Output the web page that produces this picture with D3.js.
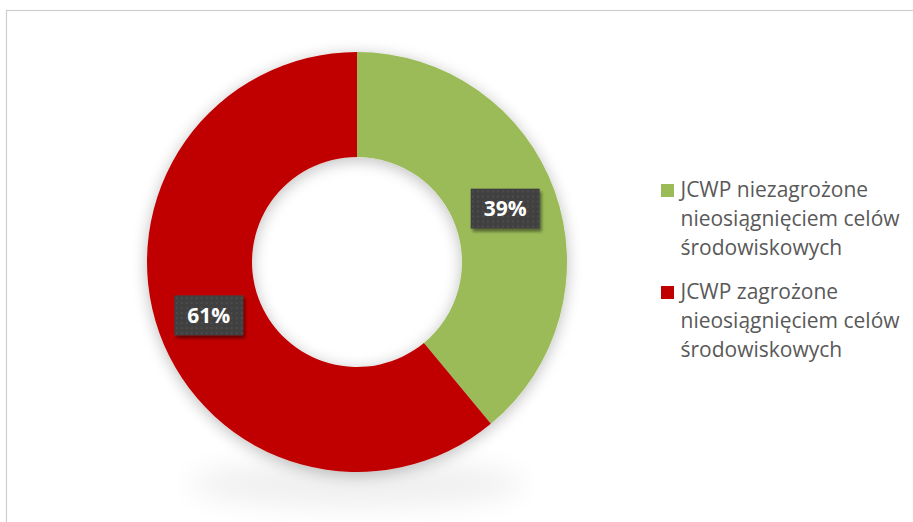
<!DOCTYPE html>
<html>
<head>
<meta charset="utf-8">
<script src="https://cdn.jsdelivr.net/npm/d3@7"></script>
<style>
  html, body { margin: 0; padding: 0; background: #fff; }
  svg { display: block; }
</style>
</head>
<body>
<svg id="chart" width="913" height="522"></svg>
<script>
// Share of water bodies (JCWP) at risk / not at risk of failing environmental objectives
const categories = [
  ["JCWP niezagrożone", "nieosiągnięciem celów", "środowiskowych"],
  ["JCWP zagrożone", "nieosiągnięciem celów", "środowiskowych"]
];
const values = [39, 61];
const valueLabels = ["39%", "61%"];
const colors = ["#9BBB59", "#C00000"];

const W = 913, H = 522;
const cx = 357, cy = 262, rOuter = 210, rInner = 105;

const svg = d3.select("#chart");
const defs = svg.append("defs");

// soft shadow around the ring
const ringShadow = defs.append("filter").attr("id", "ringShadow")
  .attr("x", "-30%").attr("y", "-30%").attr("width", "160%").attr("height", "160%");
ringShadow.append("feGaussianBlur").attr("in", "SourceAlpha").attr("stdDeviation", 8).attr("result", "b");
ringShadow.append("feOffset").attr("in", "b").attr("dy", 3).attr("result", "o");
ringShadow.append("feComponentTransfer").attr("in", "o").attr("result", "s")
  .append("feFuncA").attr("type", "linear").attr("slope", 0.26);
const m1 = ringShadow.append("feMerge");
m1.append("feMergeNode").attr("in", "s");
m1.append("feMergeNode").attr("in", "SourceGraphic");

// ground shadow under the ring
const groundBlur = defs.append("filter").attr("id", "groundBlur")
  .attr("x", "-50%").attr("y", "-100%").attr("width", "200%").attr("height", "300%");
groundBlur.append("feGaussianBlur").attr("stdDeviation", 14);

// dotted fill for the value boxes
const pat = defs.append("pattern").attr("id", "dots")
  .attr("width", 5).attr("height", 5).attr("patternUnits", "userSpaceOnUse");
pat.append("rect").attr("width", 5).attr("height", 5).attr("fill", "#404040");
pat.append("rect").attr("x", 2).attr("y", 2).attr("width", 1.5).attr("height", 1.5).attr("fill", "#555555");

const boxShadow = defs.append("filter").attr("id", "boxShadow")
  .attr("x", "-20%").attr("y", "-20%").attr("width", "150%").attr("height", "160%");
boxShadow.append("feGaussianBlur").attr("in", "SourceAlpha").attr("stdDeviation", 1.5).attr("result", "b");
boxShadow.append("feOffset").attr("in", "b").attr("dx", 2).attr("dy", 3).attr("result", "o");
boxShadow.append("feComponentTransfer").attr("in", "o").attr("result", "s")
  .append("feFuncA").attr("type", "linear").attr("slope", 0.45);
const m2 = boxShadow.append("feMerge");
m2.append("feMergeNode").attr("in", "s");
m2.append("feMergeNode").attr("in", "SourceGraphic");

// chart area border
svg.append("rect")
  .attr("x", 6.5).attr("y", 10.5).attr("width", 1000).attr("height", 1000)
  .attr("fill", "#fff").attr("stroke", "#cfcfcf").attr("stroke-width", 1.2);

// ground shadow
svg.append("ellipse")
  .attr("cx", cx).attr("cy", cy + rOuter + 12)
  .attr("rx", rOuter * 0.8).attr("ry", 24)
  .attr("fill", "#000").attr("opacity", 0.06)
  .attr("filter", "url(#groundBlur)");

const pie = d3.pie().sort(null).value(d => d)(values);
const arc = d3.arc().innerRadius(rInner).outerRadius(rOuter);
const labelArc = d3.arc().innerRadius((rInner + rOuter) / 2).outerRadius((rInner + rOuter) / 2);

const ring = svg.append("g")
  .attr("transform", `translate(${cx},${cy})`)
  .attr("filter", "url(#ringShadow)");
ring.selectAll("path").data(pie).join("path")
  .attr("d", arc)
  .attr("fill", (d, i) => colors[i]);

// value labels
const lab = svg.append("g").attr("transform", `translate(${cx},${cy})`)
  .selectAll("g").data(pie).join("g")
  .attr("transform", d => `translate(${labelArc.centroid(d)})`);
const bw = 69, bh = 40;
lab.append("rect")
  .attr("x", -bw / 2).attr("y", -bh / 2).attr("width", bw).attr("height", bh)
  .attr("fill", "url(#dots)")
  .attr("filter", "url(#boxShadow)");
lab.append("text")
  .attr("text-anchor", "middle")
  .attr("dy", "0.36em")
  .attr("font-family", "'Open Sans', sans-serif")
  .attr("font-weight", 700)
  .attr("font-size", 21)
  .attr("fill", "#fff")
  .text((d, i) => valueLabels[i]);

// legend
const legendX = 661, legendTop = [184, 286], lineGap = 29;
const leg = svg.append("g").selectAll("g").data(categories).join("g")
  .attr("transform", (d, i) => `translate(${legendX},${legendTop[i]})`);
leg.append("rect")
  .attr("width", 13).attr("height", 13)
  .attr("fill", (d, i) => colors[i]);
const lt = leg.append("text")
  .attr("font-family", "'Open Sans', sans-serif")
  .attr("font-size", 21)
  .attr("fill", "#595959");
lt.selectAll("tspan").data(d => d).join("tspan")
  .attr("x", 19.5)
  .attr("y", (d, j) => 13 + j * lineGap)
  .text(d => d);
</script>
</body>
</html>
